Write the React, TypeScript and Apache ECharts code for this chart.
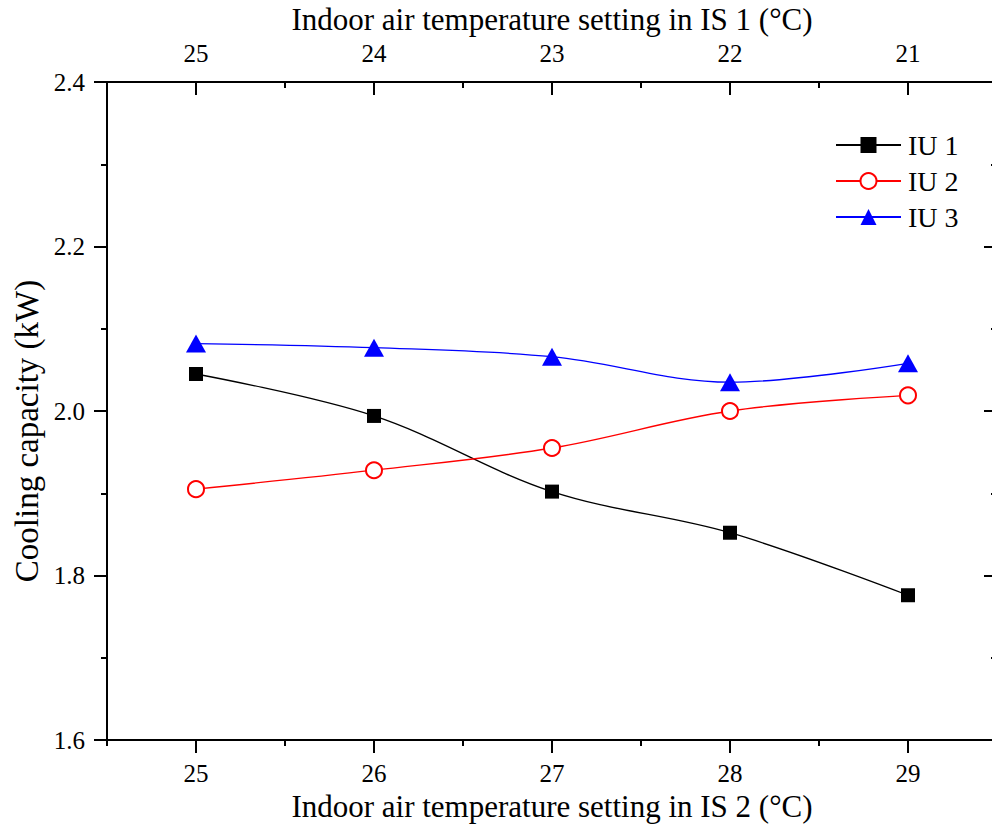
import React, { useEffect, useRef } from "react";
import * as echarts from "echarts";

// Indoor air temperature settings (°C)
const is2Temps = ["25", "26", "27", "28", "29"];
const is1Temps = ["25", "24", "23", "22", "21"];

// Cooling capacity of each indoor unit (kW)
const iu1 = [2.045, 1.994, 1.902, 1.852, 1.776];
const iu2 = [1.905, 1.928, 1.955, 2.0, 2.019];
const iu3 = [2.082, 2.077, 2.066, 2.035, 2.058];

const yTicks = { min: 1.6, max: 2.4, step: 0.2 };

const FONT = "'Liberation Serif', 'Times New Roman', serif";

export default function App() {
  const ref = useRef<HTMLDivElement>(null);

  useEffect(() => {
    document.body.style.margin = "0";
    const chart = echarts.init(ref.current!, undefined, { renderer: "svg" });
    const axisLine = { show: true, lineStyle: { color: "#000", width: 2 } };
    const tickStyle = { color: "#000", width: 2 };

    const option: any = {
      animation: false,
      backgroundColor: "#fff",
      grid: {
        left: 107,
        right: -5,
        top: 82,
        bottom: 86,
        containLabel: false,
        outerBoundsMode: "none",
      },
      legend: {
        left: 835,
        top: 131,
        orient: "vertical",
        padding: 0,
        itemWidth: 65,
        itemHeight: 20,
        itemGap: 8,
        textStyle: {
          fontFamily: FONT,
          fontSize: 28,
          lineHeight: 28,
          color: "#000",
          padding: [0, 0, 0, 2],
        },
        data: ["IU 1", "IU 2", "IU 3"],
      },
      graphic: [
        {
          type: "text",
          x: 27,
          y: 431,
          rotation: Math.PI / 2,
          style: {
            text: "Cooling capacity (kW)",
            fontFamily: FONT,
            fontSize: 33,
            fill: "#000",
            align: "center",
            verticalAlign: "middle",
          },
        },
      ],
      xAxis: [
        {
          type: "category",
          data: is2Temps,
          position: "bottom",
          boundaryGap: true,
          axisLine,
          axisTick: { show: true, alignWithLabel: true, length: 13, lineStyle: tickStyle },
          axisLabel: { fontFamily: FONT, fontSize: 25, color: "#000", margin: 21 },
          splitLine: { show: false },
          name: "Indoor air temperature setting in IS 2 (°C)",
          nameLocation: "middle",
          nameGap: 49,
          nameTextStyle: { fontFamily: FONT, fontSize: 31, color: "#000" },
        },
        {
          type: "category",
          data: is2Temps,
          position: "bottom",
          boundaryGap: true,
          axisLine: { show: false },
          axisTick: { show: true, length: 6, lineStyle: tickStyle },
          axisLabel: { show: false },
          splitLine: { show: false },
        },
        {
          type: "category",
          data: is1Temps,
          position: "top",
          boundaryGap: true,
          axisLine,
          axisTick: { show: true, inside: true, alignWithLabel: true, length: 13, lineStyle: tickStyle },
          axisLabel: { fontFamily: FONT, fontSize: 25, color: "#000", margin: 16 },
          splitLine: { show: false },
          name: "Indoor air temperature setting in IS 1 (°C)",
          nameLocation: "middle",
          nameGap: 47,
          nameTextStyle: { fontFamily: FONT, fontSize: 31, color: "#000" },
        },
        {
          type: "category",
          data: is1Temps,
          position: "top",
          boundaryGap: true,
          axisLine: { show: false },
          axisTick: { show: true, inside: true, length: 6, lineStyle: tickStyle },
          axisLabel: { show: false },
          splitLine: { show: false },
        },
      ],
      yAxis: [
        {
          type: "value",
          position: "left",
          min: yTicks.min,
          max: yTicks.max,
          interval: yTicks.step,
          axisLine,
          axisTick: { show: true, length: 13, lineStyle: tickStyle },
          minorTick: { show: true, splitNumber: 2, length: 6, lineStyle: tickStyle },
          axisLabel: {
            fontFamily: FONT,
            fontSize: 25,
            color: "#000",
            margin: 22,
            formatter: (v: number) => v.toFixed(1),
          },
          splitLine: { show: false },
        },
        {
          type: "value",
          position: "right",
          min: yTicks.min,
          max: yTicks.max,
          interval: yTicks.step,
          axisLine,
          axisTick: { show: true, inside: true, length: 13, lineStyle: tickStyle },
          minorTick: { show: true, splitNumber: 2, length: 6, lineStyle: tickStyle },
          axisLabel: { show: false },
          splitLine: { show: false },
        },
      ],
      series: [
        {
          name: "IU 1",
          type: "line",
          data: iu1,
          smooth: 0.35,
          symbol: "rect",
          symbolSize: 14,
          color: "#000000",
          lineStyle: { color: "#000000", width: 1.3 },
          itemStyle: { color: "#000000" },
        },
        {
          name: "IU 2",
          type: "line",
          data: iu2,
          smooth: 0.35,
          symbol: "emptyCircle",
          symbolSize: 16,
          color: "#ff0000",
          lineStyle: { color: "#ff0000", width: 1.3 },
          itemStyle: { color: "#ff0000", borderWidth: 1.5 },
        },
        {
          name: "IU 3",
          type: "line",
          data: iu3,
          smooth: 0.35,
          symbol: "triangle",
          symbolSize: [20, 18],
          color: "#0000ff",
          lineStyle: { color: "#0000ff", width: 1.3 },
          itemStyle: { color: "#0000ff" },
        },
      ],
    };

    chart.setOption(option);
    return () => chart.dispose();
  }, []);

  return (
    <div
      ref={ref}
      style={{ position: "absolute", left: 0, top: 0, width: 992, height: 826 }}
    />
  );
}
